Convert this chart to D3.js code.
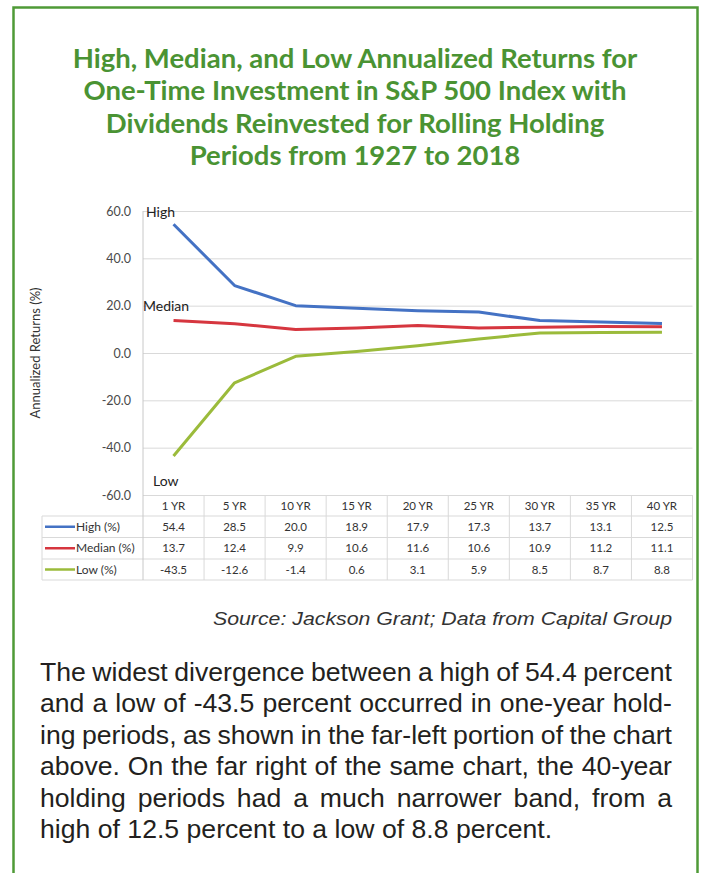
<!DOCTYPE html>
<html>
<head>
<meta charset="utf-8">
<script src="https://cdn.jsdelivr.net/npm/d3@7"></script>
<style>
  html, body { margin: 0; padding: 0; background: #fff; }
  svg { display: block; }
</style>
</head>
<body>
<div id="chart"></div>
<script>
// ---- data ----
const categories = ["1 YR", "5 YR", "10 YR", "15 YR", "20 YR", "25 YR", "30 YR", "35 YR", "40 YR"];
const highValues = [54.4, 28.5, 20.0, 18.9, 17.9, 17.3, 13.7, 13.1, 12.5];
const medianValues = [13.7, 12.4, 9.9, 10.6, 11.6, 10.6, 10.9, 11.2, 11.1];
const lowValues = [-43.5, -12.6, -1.4, 0.6, 3.1, 5.9, 8.5, 8.7, 8.8];
const seriesNames = ["High (%)", "Median (%)", "Low (%)"];
const yTicks = [60, 40, 20, 0, -20, -40, -60];
const titleLines = [
  "High, Median, and Low Annualized Returns for",
  "One-Time Investment in S&P 500 Index with",
  "Dividends Reinvested for Rolling Holding",
  "Periods from 1927 to 2018"
];
const yAxisTitle = "Annualized Returns (%)";
const sourceText = "Source: Jackson Grant; Data from Capital Group";
const bodyLines = [
  "The widest divergence between a high of 54.4 percent",
  "and a low of -43.5 percent occurred in one-year hold-",
  "ing periods, as shown in the far-left portion of the chart",
  "above. On the far right of the same chart, the 40-year",
  "holding periods had a much narrower band, from a",
  "high of 12.5 percent to a low of 8.8 percent."
];

const series = [
  { name: seriesNames[0], label: "High", values: highValues, color: "#4472c4" },
  { name: seriesNames[1], label: "Median", values: medianValues, color: "#d6363f" },
  { name: seriesNames[2], label: "Low", values: lowValues, color: "#9bbb3b" }
];

// ---- layout ----
const W = 702, H = 873;
const green = "#4f9a37";
const svg = d3.select("#chart").append("svg").attr("width", W).attr("height", H);
svg.append("rect").attr("width", W).attr("height", H).attr("fill", "#fff");

// border
svg.append("rect")
  .attr("x", 13.5).attr("y", 7.5).attr("width", 684).attr("height", 920)
  .attr("fill", "none").attr("stroke", green).attr("stroke-width", 2.5);

// title
const titleG = svg.append("g");
titleLines.forEach((t, i) => {
  titleG.append("text")
    .attr("x", 355).attr("y", 68 + i * 32.3)
    .attr("text-anchor", "middle")
    .attr("font-family", "Lato, 'Open Sans', sans-serif")
    .attr("font-weight", "bold")
    .attr("font-size", 27.5)
    .attr("fill", "#4a9333")
    .text(t);
});

// scales
const plotLeft = 143, plotRight = 692.5, plotTop = 211, plotBottom = 495;
const x = d3.scaleBand().domain(categories).range([plotLeft, plotRight]).padding(0);
const y = d3.scaleLinear().domain([-60, 60]).range([plotBottom, plotTop]);
const cx = c => x(c) + x.bandwidth() / 2;

const fontChart = "Lato, 'Open Sans', sans-serif";
const gridColor = "#d9d9d9";
const loc = d3.formatLocale({ decimal: ".", thousands: ",", grouping: [3], currency: ["$", ""], minus: "-" });
const fmt = loc.format(".1f");

// gridlines via axis
const yAxis = d3.axisLeft(y).tickValues(yTicks).tickSize(-(plotRight - plotLeft)).tickFormat(fmt);
const yg = svg.append("g").attr("transform", `translate(${plotLeft},0)`).call(yAxis);
yg.select(".domain").remove();
yg.selectAll(".tick line").attr("stroke", gridColor).attr("stroke-width", 1);
yg.selectAll(".tick text")
  .attr("x", -12)
  .attr("font-family", fontChart)
  .attr("font-size", 12.5)
  .attr("fill", "#4a4a4a");

// y axis title
svg.append("text")
  .attr("transform", `translate(40,${(plotTop + plotBottom) / 2}) rotate(-90)`)
  .attr("text-anchor", "middle")
  .attr("font-family", fontChart)
  .attr("font-size", 13)
  .attr("fill", "#333")
  .text(yAxisTitle);

// table geometry
const rowTops = [495, 516, 537.5, 559, 580];
const tableLeft = 42;

// horizontal table lines
svg.append("g").selectAll("line").data(rowTops.slice(1))
  .join("line")
  .attr("x1", tableLeft).attr("x2", plotRight)
  .attr("y1", d => d).attr("y2", d => d)
  .attr("stroke", gridColor).attr("stroke-width", 1);

// vertical column lines
const colEdges = categories.map(c => x(c)).concat([plotRight]);
svg.append("g").selectAll("line").data(colEdges.slice(1))
  .join("line")
  .attr("x1", d => d).attr("x2", d => d)
  .attr("y1", rowTops[0]).attr("y2", rowTops[4])
  .attr("stroke", gridColor).attr("stroke-width", 1);
svg.append("line")
  .attr("x1", tableLeft).attr("x2", tableLeft)
  .attr("y1", rowTops[1]).attr("y2", rowTops[4])
  .attr("stroke", gridColor);
// left axis line
svg.append("line")
  .attr("x1", plotLeft).attr("x2", plotLeft)
  .attr("y1", plotTop).attr("y2", rowTops[4])
  .attr("stroke", "#c8c8c8").attr("stroke-width", 1);

// header labels
svg.append("g").selectAll("text").data(categories)
  .join("text")
  .attr("x", d => cx(d)).attr("y", (rowTops[0] + rowTops[1]) / 2 + 4)
  .attr("text-anchor", "middle")
  .attr("font-family", fontChart).attr("font-size", 11.5).attr("fill", "#333")
  .text(d => d);

// rows
series.forEach((s, i) => {
  const rowMid = (rowTops[i + 1] + rowTops[i + 2]) / 2 + 4;
  svg.append("line")
    .attr("x1", 45).attr("x2", 75)
    .attr("y1", rowMid - 4).attr("y2", rowMid - 4)
    .attr("stroke", s.color).attr("stroke-width", 2.5);
  svg.append("text")
    .attr("x", 76).attr("y", rowMid)
    .attr("font-family", fontChart).attr("font-size", 12).attr("fill", "#333")
    .text(s.name);
  svg.append("g").selectAll("text").data(s.values)
    .join("text")
    .attr("x", (d, j) => cx(categories[j])).attr("y", rowMid)
    .attr("text-anchor", "middle")
    .attr("font-family", fontChart).attr("font-size", 11.5).attr("fill", "#333")
    .text(d => fmt(d));
});

// lines
const line = d3.line().x((d, j) => cx(categories[j])).y(d => y(d));
series.forEach(s => {
  svg.append("path")
    .datum(s.values)
    .attr("d", line)
    .attr("fill", "none")
    .attr("stroke", s.color)
    .attr("stroke-width", 3)
    .attr("stroke-linejoin", "round");
});

// annotations
const annot = [
  { t: "High", x: 146, y: 217 },
  { t: "Median", x: 143, y: 311 },
  { t: "Low", x: 153, y: 486 }
];
svg.append("g").selectAll("text").data(annot)
  .join("text")
  .attr("x", d => d.x).attr("y", d => d.y)
  .attr("font-family", fontChart).attr("font-size", 14).attr("fill", "#222")
  .text(d => d.t);

// source
svg.append("text")
  .attr("x", 672).attr("y", 625)
  .attr("text-anchor", "end")
  .attr("font-family", "'Liberation Sans', Arial, sans-serif")
  .attr("font-style", "italic")
  .attr("font-size", 18)
  .attr("fill", "#333")
  .attr("textLength", 459)
  .attr("lengthAdjust", "spacingAndGlyphs")
  .text(sourceText);

// body text (justified)
const bodyFont = "'Liberation Sans', Arial, sans-serif";
const bodySize = 26;
const bodyLeft = 40, bodyRight = 672, lastLineRight = 552;
const bodyG = svg.append("g");
function measure(str) {
  const t = bodyG.append("text").attr("font-family", bodyFont).attr("font-size", bodySize).text(str);
  const w = t.node().getComputedTextLength();
  t.remove();
  return w;
}
const spaceW = measure("a a") - measure("aa");
const lastNatural = measure(bodyLines[bodyLines.length - 1]);
const sx = (lastLineRight - bodyLeft) / lastNatural;
const inner = bodyG.append("g").attr("transform", `translate(${bodyLeft},0) scale(${sx},1)`);
bodyLines.forEach((ln, i) => {
  const yb = 681 + i * 31.4;
  const words = ln.split(" ");
  const isLast = i === bodyLines.length - 1;
  const widths = words.map(measure);
  const total = d3.sum(widths);
  const target = (bodyRight - bodyLeft) / sx;
  const gap = isLast ? spaceW : (target - total) / (words.length - 1);
  let xx = 0;
  words.forEach((w, k) => {
    inner.append("text")
      .attr("x", xx).attr("y", yb)
      .attr("font-family", bodyFont).attr("font-size", bodySize)
      .attr("fill", "#231f20")
      .text(w);
    xx += widths[k] + gap;
  });
});
</script>
</body>
</html>
